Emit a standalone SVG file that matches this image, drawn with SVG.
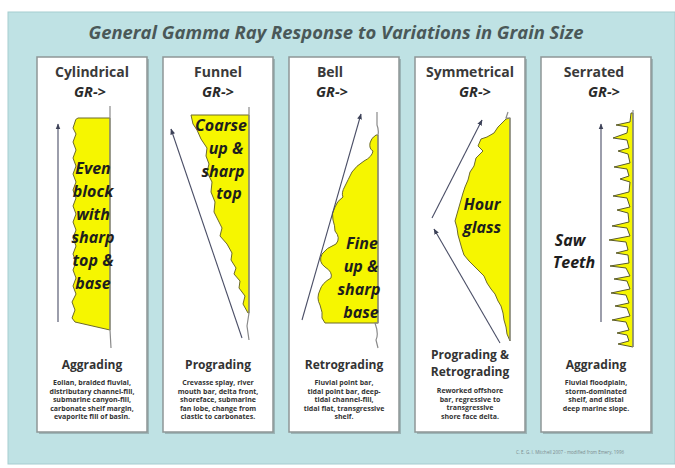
<svg xmlns="http://www.w3.org/2000/svg" width="675" height="468" viewBox="0 0 675 468">
<defs>
<marker id="ah" viewBox="0 0 10 10" refX="9" refY="5" markerWidth="6" markerHeight="6" orient="auto-start-reverse" markerUnits="userSpaceOnUse">
<path d="M0,1 L10,5 L0,9 Z" fill="#3d4258"/>
</marker>
<style>
.card{fill:#fff;stroke:#8e9696;stroke-width:1.5}
.shadow{fill:#7d8f91;opacity:.55}
.ttl{font-family:"Open Sans","Noto Sans",sans-serif;font-weight:bold;font-size:14px;fill:#3a3a3a;text-anchor:middle}
.gr{font-family:"Open Sans","Noto Sans",sans-serif;font-weight:bold;font-style:italic;font-size:14.5px;fill:#2a2a2a;text-anchor:middle}
.big{font-family:"Open Sans","Noto Sans",sans-serif;font-weight:bold;font-style:italic;font-size:16px;fill:#1e1e1e;text-anchor:middle}
.kind{font-family:"Open Sans","Noto Sans",sans-serif;font-weight:bold;font-size:12px;fill:#333;text-anchor:middle}
.desc{font-family:"Open Sans","Noto Sans",sans-serif;font-weight:bold;font-size:7px;fill:#333;text-anchor:middle}
.log{fill:#f6f600;stroke:#6d6a2a;stroke-width:1}
.edge{fill:none;stroke:#8a8a8a;stroke-width:1.2}
.arr{fill:none;stroke:#4a4e66;stroke-width:1.1;marker-end:url(#ah)}
</style>
</defs>
<rect x="0" y="0" width="675" height="468" fill="#fff"/>
<rect x="8" y="12" width="667" height="452" fill="#bfe2e4" stroke="#a6cdd0" stroke-width="1"/>
<text x="336" y="39" font-family="Open Sans, Noto Sans, sans-serif" font-weight="bold" font-style="italic" font-size="17.5" fill="#4a5858" text-anchor="middle" textLength="495" lengthAdjust="spacingAndGlyphs">General Gamma Ray Response to Variations in Grain Size</text>

<g id="cylindrical">
<rect class="shadow" x="39" y="59" width="110" height="375"/>
<rect class="card" x="37" y="57" width="110" height="375"/>
<text class="ttl" x="92" y="77">Cylindrical</text>
<text class="gr" x="90" y="97">GR-&gt;</text>
<path class="log" d="M110,118 L78,118 Q75,119 75,122 L73,128 L76,134 L73,142 L76,150 L73,158 L76,166 L73,174 L76,182 L73,190 L76,198 L73,206 L76,214 L73,222 L76,230 L73,238 L76,246 L73,254 L76,262 L73,270 L76,278 L73,286 L76,294 L72,302 L75,310 L72,318 L75,322 L110,330 Z"/>
<path class="edge" d="M110,106 L110,330 L111,348"/>
<path class="arr" d="M58,322 L58,124"/>
<text class="big" x="93" y="174">Even</text>
<text class="big" x="93" y="197">block</text>
<text class="big" x="93" y="220">with</text>
<text class="big" x="93" y="243">sharp</text>
<text class="big" x="93" y="266">top &amp;</text>
<text class="big" x="93" y="289">base</text>
<text class="kind" x="92" y="369">Aggrading</text>
<text class="desc" x="92" y="385">Eolian, braided fluvial,</text>
<text class="desc" x="92" y="393.5">distributary channel-fill,</text>
<text class="desc" x="92" y="402">submarine canyon-fill,</text>
<text class="desc" x="92" y="410.5">carbonate shelf margin,</text>
<text class="desc" x="92" y="419">evaporite fill of basin.</text>
</g>

<g id="funnel">
<rect class="shadow" x="165" y="59" width="110" height="375"/>
<rect class="card" x="163" y="57" width="110" height="375"/>
<text class="ttl" x="218" y="77">Funnel</text>
<text class="gr" x="218" y="97">GR-&gt;</text>
<path class="log" d="M249,115 L191,115 L193,124 L197,130 L201,139 L207,148 L206,156 L209,164 L207,172 L212,182 L211,192 L215,202 L214,212 L218,220 L222,228 L220,236 L227,244 L232,253 L231,260 L236,268 L234,274 L240,281 L239,288 L245,296 L243,304 L248,313 L249,313 Z"/>
<path class="edge" d="M249,107 L249,313 L247,326 L249,340"/>
<path class="arr" d="M242,338 L171,129"/>
<text class="big" x="221" y="131">Coarse</text>
<text class="big" x="226" y="154">up &amp;</text>
<text class="big" x="223" y="177">sharp</text>
<text class="big" x="229" y="199">top</text>
<text class="kind" x="218" y="369">Prograding</text>
<text class="desc" x="218" y="385">Crevasse splay, river</text>
<text class="desc" x="218" y="393.5">mouth bar, delta front,</text>
<text class="desc" x="218" y="402">shoreface, submarine</text>
<text class="desc" x="218" y="410.5">fan lobe, change from</text>
<text class="desc" x="218" y="419">clastic to carbonates.</text>
</g>

<g id="bell">
<rect class="shadow" x="291" y="59" width="110" height="375"/>
<rect class="card" x="289" y="57" width="110" height="375"/>
<text class="ttl" x="330" y="77">Bell</text>
<text class="gr" x="332" y="97">GR-&gt;</text>
<path class="log" d="M378,135 L376,135 Q371,138 370,143 Q369,149 373,151 Q372,157 364,161 Q356,166 352,172 Q348,180 345,186 Q341,193 343,197 Q337,201 335,207 Q331,213 333,220 Q335,226 335,231 Q341,238 336,244 Q326,248 322,254 Q318,262 325,267 Q333,272 331,278 Q322,283 320,290 Q316,298 320,305 Q323,313 322,318 L325,323 L375,323 L378,323 Z"/>
<path class="edge" d="M377,112 L377,125 Q379,130 378,135 L378,323 L375,323 Q379,334 376,340 L378,348"/>
<path class="arr" d="M302,320 L361,114"/>
<text class="big" x="362" y="249">Fine</text>
<text class="big" x="361" y="272">up &amp;</text>
<text class="big" x="359" y="295">sharp</text>
<text class="big" x="361" y="318">base</text>
<text class="kind" x="344" y="369">Retrograding</text>
<text class="desc" x="344" y="385">Fluvial point bar,</text>
<text class="desc" x="344" y="393.5">tidal point bar, deep-</text>
<text class="desc" x="344" y="402">tidal channel-fill,</text>
<text class="desc" x="344" y="410.5">tidal flat, transgressive</text>
<text class="desc" x="344" y="419">shelf.</text>
</g>

<g id="symmetrical">
<rect class="shadow" x="417" y="59" width="110" height="375"/>
<rect class="card" x="415" y="57" width="110" height="375"/>
<text class="ttl" x="470" y="77">Symmetrical</text>
<text class="gr" x="475" y="97">GR-&gt;</text>
<path class="log" d="M510,118 L506,119 L502,123 L498,127 L494,133 L487,137 L481,139 L478,146 L483,151 L476,158 L474,166 L470,172 L468,180 L465,187 L463,193 L461,200 L459,207 L457,214 L455,221 L457,228 L458,235 L460,242 L462,249 L464,255 L469,261 L474,266 L479,271 L484,276 L487,283 L491,289 L495,294 L498,301 L501,306 L503,313 L504,320 L506,327 L507,334 L510,341 Z"/>
<path class="edge" d="M508,112 L506,118 L510,118 L510,341"/>
<path class="arr" d="M432,218 L482,120"/>
<path class="arr" d="M500,343 L434,229"/>
<text class="big" x="482" y="210">Hour</text>
<text class="big" x="482" y="233">glass</text>
<text class="kind" x="470" y="359">Prograding &amp;</text>
<text class="kind" x="470" y="376">Retrograding</text>
<text class="desc" x="470" y="393">Reworked offshore</text>
<text class="desc" x="470" y="401.5">bar, regressive to</text>
<text class="desc" x="470" y="410">transgressive</text>
<text class="desc" x="470" y="418.5">shore face delta.</text>
</g>

<g id="serrated">
<rect class="shadow" x="543" y="59" width="110" height="375"/>
<rect class="card" x="541" y="57" width="110" height="375"/>
<text class="ttl" x="594" y="77">Serrated</text>
<text class="gr" x="604" y="97">GR-&gt;</text>
<path d="M633,113 L631,113 L630,122 L616,125 L628,127 L627,133 L613,138 L627,140 L629,148 L618,151 L628,154 L630,163 L614,167 L627,169 L629,176 L620,179 L630,182 L629,192 L613,196 L627,198 L630,207 L617,210 L628,213 L629,222 L612,226 L627,228 L630,236 L609,240 L626,242 L628,250 L616,253 L628,255 L629,263 L610,266 L626,268 L630,276 L614,279 L627,281 L630,289 L611,293 L626,295 L629,303 L615,306 L627,308 L630,316 L612,320 L626,322 L629,330 L617,333 L627,335 L629,341 L618,344 L633,347 Z" fill="#f6f600" stroke="#5a5a2a" stroke-width="1"/>
<path class="edge" d="M633,110 L633,347"/>
<path class="arr" d="M601,322 L601,124"/>
<text class="big" x="570" y="246">Saw</text>
<text class="big" x="574" y="268">Teeth</text>
<text class="kind" x="596" y="369">Aggrading</text>
<text class="desc" x="596" y="385">Fluvial floodplain,</text>
<text class="desc" x="596" y="393.5">storm-dominated</text>
<text class="desc" x="596" y="402">shelf, and distal</text>
<text class="desc" x="596" y="410.5">deep marine slope.</text>
</g>

<text x="570" y="454" font-family="Open Sans, Noto Sans, sans-serif" font-size="4.5" fill="#7a8a8c" text-anchor="middle">C. E. G. I. Mitchell 2007 - modified from Emery, 1996</text>
</svg>
